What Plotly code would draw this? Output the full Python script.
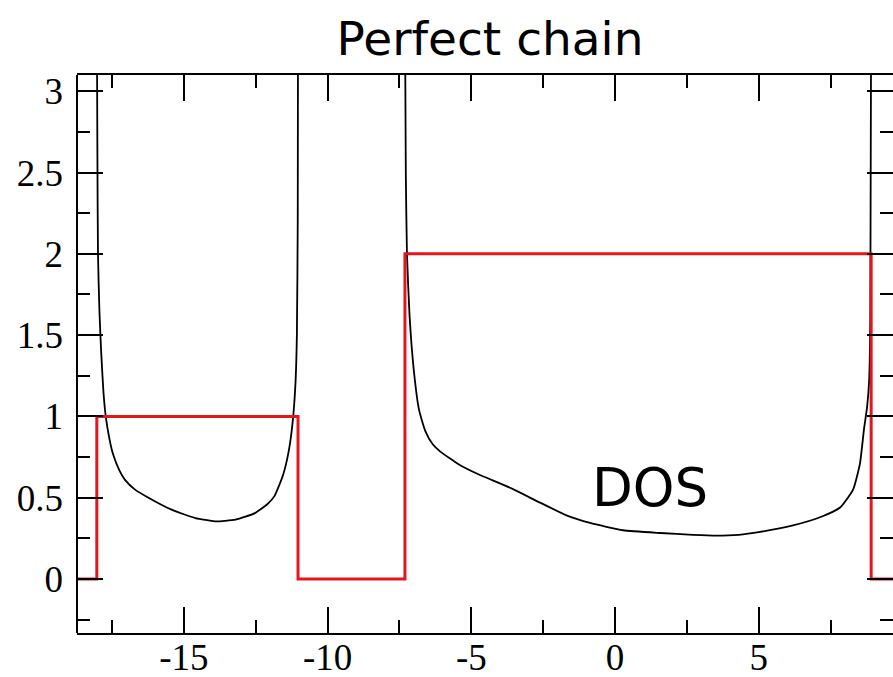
import plotly.graph_objects as go

# ---- data ----
band1_x = [-18.03, -18.01, -17.99, -17.94, -17.88, -17.8, -17.72, -17.6, -17.47, -17.25, -17.05,
           -16.7, -16.28, -15.41, -14.6, -13.92, -13.2, -12.53, -12.1, -11.85, -11.55,
           -11.36, -11.22, -11.12, -11.07, -11.04, -11.03]
band1_y = [3.5, 2.6, 2.0, 1.65, 1.4, 1.15, 1.0, 0.87, 0.77, 0.67, 0.61,
           0.55, 0.505, 0.425, 0.375, 0.355, 0.365, 0.405, 0.46, 0.51, 0.64,
           0.78, 0.96, 1.2, 1.5, 2.2, 3.5]

band2_x = [-7.31, -7.28, -7.24, -7.15, -7.0, -6.82, -6.6, -6.35, -6.09, -5.39, -4.70, -3.76,
           -2.61, -1.67, -0.87, 0.28, 1.57, 2.71, 3.5, 4.3, 5.05, 6.19, 7.13,
           7.83, 8.28, 8.52, 8.66, 8.77, 8.84, 8.88, 8.91]
band2_y = [3.5, 2.5, 2.0, 1.62, 1.28, 1.04, 0.91, 0.83, 0.785, 0.70, 0.64, 0.57,
           0.47, 0.39, 0.345, 0.30, 0.283, 0.272, 0.267, 0.272, 0.29, 0.33, 0.38,
           0.44, 0.55, 0.71, 0.92, 1.06, 1.22, 1.6, 3.5]

step_x = [-18.72, -18.03, -11.03, -7.31, 8.91, 9.67]
step_y = [0, 1, 0, 2, 0, 0]

x_range = [-18.72, 9.67]
y_range = [-0.332, 3.10]
x_ticks = [-15, -10, -5, 0, 5]
y_ticks = [0, 0.5, 1, 1.5, 2, 2.5, 3]
y_ticklabels = ["0", "0.5", "1", "1.5", "2", "2.5", "3"]

fig = go.Figure()
for bx, by in ((band1_x, band1_y), (band2_x, band2_y)):
    fig.add_trace(go.Scatter(x=bx, y=by, mode="lines",
                             line=dict(color="black", width=1.8, shape="spline", smoothing=0.5),
                             showlegend=False))
fig.add_trace(go.Scatter(x=step_x, y=step_y, mode="lines", line_shape="hv",
                         line=dict(color="rgb(228,22,28)", width=3), showlegend=False))

tickfont = dict(family="Liberation Serif", size=37, color="black")

fig.update_layout(
    width=893, height=677,
    margin=dict(l=77, r=0, t=75, b=44, autoexpand=False),
    paper_bgcolor="white", plot_bgcolor="white",
    title=dict(text="Perfect chain", x=490 / 893, xanchor="center",
               y=1 - 39 / 677, yanchor="middle",
               font=dict(family="DejaVu Sans", size=47, color="black")),
    xaxis=dict(range=x_range, tickvals=x_ticks, ticktext=[str(v) for v in x_ticks],
               ticks="inside", ticklen=26, tickwidth=2, tickcolor="black",
               minor=dict(ticks="inside", ticklen=13, tickwidth=2, tickcolor="black", dtick=2.5),
               showline=True, linecolor="black", linewidth=2, mirror="ticks",
               automargin=False, ticklabelstandoff=-9,
               showgrid=False, zeroline=False, tickfont=tickfont),
    yaxis=dict(range=y_range, tickvals=y_ticks, ticktext=y_ticklabels,
               ticks="inside", ticklen=26, tickwidth=2, tickcolor="black",
               minor=dict(ticks="inside", ticklen=13, tickwidth=2, tickcolor="black", dtick=0.25),
               showline=False, mirror="ticks", ticklabelstandoff=13,
               automargin=False,
               showgrid=False, zeroline=False, tickfont=tickfont),
    shapes=[dict(type="line", xref="paper", yref="paper", x0=0, x1=0, y0=0, y1=1,
                 line=dict(color="black", width=2))],
    annotations=[dict(text="DOS", x=1.2, y=0.56, xref="x", yref="y", showarrow=False,
                      font=dict(family="DejaVu Sans", size=53, color="black"))],
)

fig.write_html("out.html")
